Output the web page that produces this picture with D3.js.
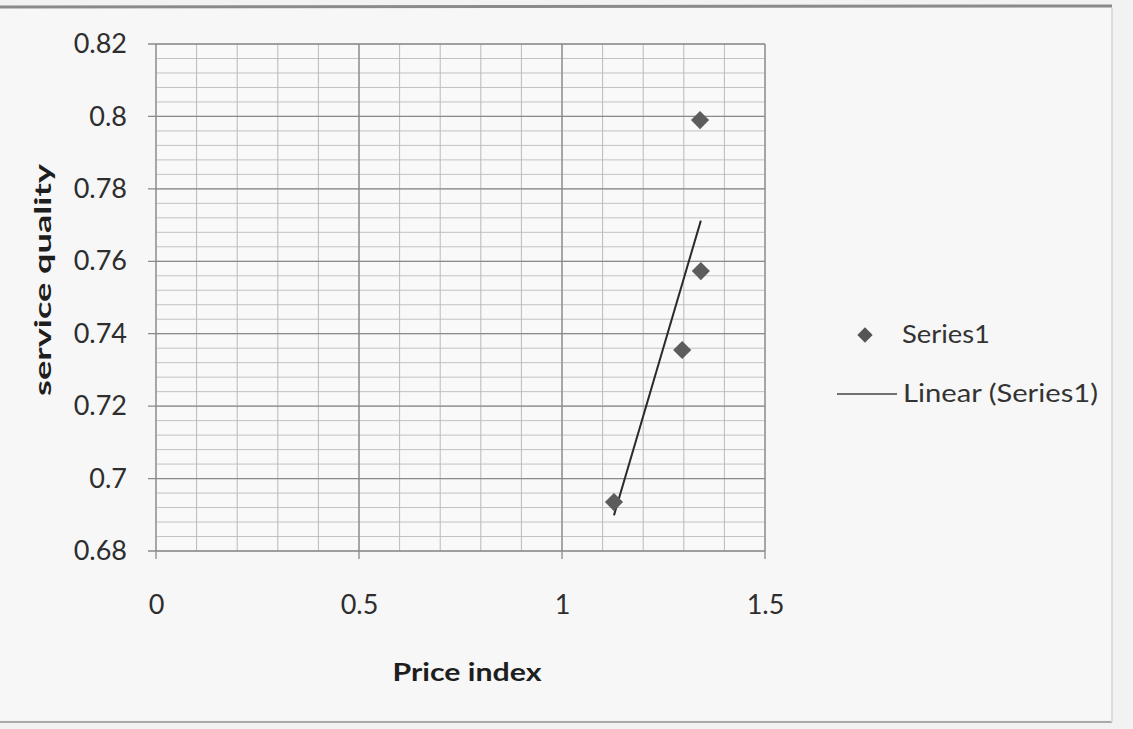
<!DOCTYPE html>
<html>
<head>
<meta charset="utf-8">
<script src="https://cdn.jsdelivr.net/npm/d3@7"></script>
<style>
  html, body { margin: 0; padding: 0; background: #f3f3f3; }
  svg { display: block; }
</style>
</head>
<body>
<svg id="chart" width="1133" height="729"></svg>
<script>
// ---- data ----
const priceIndex = [1.128, 1.296, 1.342, 1.340];
const serviceQuality = [0.6935, 0.7355, 0.7573, 0.799];
const xTicks = [0, 0.5, 1, 1.5];
const yTicks = [0.68, 0.70, 0.72, 0.74, 0.76, 0.78, 0.80, 0.82];
const xTickLabels = ["0", "0.5", "1", "1.5"];
const yTickLabels = ["0.68", "0.7", "0.72", "0.74", "0.76", "0.78", "0.8", "0.82"];
const seriesName = "Series1";
const trendName = "Linear (Series1)";
const xTitle = "Price index";
const yTitle = "service quality";

const svg = d3.select("#chart");
const W = 1133, H = 729;
const FONT = "Lato, 'Open Sans', sans-serif";
const m = { left: 156, right: 1133 - 765, top: 44, bottom: 729 - 551 };

// page background / scan frame
svg.append("rect").attr("x", 0).attr("y", 0).attr("width", W).attr("height", H).attr("fill", "#f2f2f2");
svg.append("rect").attr("x", 0).attr("y", 8).attr("width", 1112).attr("height", 712).attr("fill", "#f7f7f7");
svg.append("line").attr("x1", 0).attr("x2", 1112).attr("y1", 7).attr("y2", 6).attr("stroke", "#8a8a8a").attr("stroke-width", 3);
svg.append("line").attr("x1", 0).attr("x2", 1112).attr("y1", 722).attr("y2", 722).attr("stroke", "#aaaaaa").attr("stroke-width", 2);
svg.append("line").attr("x1", 1112).attr("x2", 1112).attr("y1", 8).attr("y2", 722).attr("stroke", "#dddddd").attr("stroke-width", 2);

const x = d3.scaleLinear().domain([0, 1.5]).range([m.left, W - m.right]);
const y = d3.scaleLinear().domain([0.68, 0.82]).range([H - m.bottom, m.top]);

// plot background
svg.append("rect").attr("x", x(0)).attr("y", y(0.82))
  .attr("width", x(1.5) - x(0)).attr("height", y(0.68) - y(0.82)).attr("fill", "#f9f9f9");

// minor gridlines
const xMinor = d3.range(0, 1.5001, 0.1);
const yMinor = d3.range(0.68, 0.82001, 0.004);
svg.append("g").selectAll("line").data(yMinor).join("line")
  .attr("x1", x(0)).attr("x2", x(1.5)).attr("y1", d => y(d)).attr("y2", d => y(d))
  .attr("stroke", "#c2c2c2").attr("stroke-width", 1);
svg.append("g").selectAll("line").data(xMinor).join("line")
  .attr("x1", d => x(d)).attr("x2", d => x(d)).attr("y1", y(0.82)).attr("y2", y(0.68))
  .attr("stroke", "#bababa").attr("stroke-width", 1);

// major gridlines
svg.append("g").selectAll("line").data(yTicks).join("line")
  .attr("x1", x(0) - 8).attr("x2", x(1.5)).attr("y1", d => y(d)).attr("y2", d => y(d))
  .attr("stroke", "#8a8a8a").attr("stroke-width", 1.3);
svg.append("g").selectAll("line").data(xTicks).join("line")
  .attr("x1", d => x(d)).attr("x2", d => x(d)).attr("y1", y(0.82)).attr("y2", y(0.68) + 8)
  .attr("stroke", "#8a8a8a").attr("stroke-width", 1.3);

// tick labels via axes
const yAxis = d3.axisLeft(y).tickValues(yTicks).tickFormat((d, i) => yTickLabels[i]).tickSize(0).tickPadding(29);
const gy = svg.append("g").attr("transform", `translate(${x(0)},0)`).call(yAxis);
gy.select(".domain").remove();
gy.selectAll("text").attr("font-family", FONT).attr("font-size", 27).attr("fill", "#2e2e2e");

const xAxis = d3.axisBottom(x).tickValues(xTicks).tickFormat((d, i) => xTickLabels[i]).tickSize(0).tickPadding(44);
const gx = svg.append("g").attr("transform", `translate(0,${y(0.68)})`).call(xAxis);
gx.select(".domain").remove();
gx.selectAll("text").attr("font-family", FONT).attr("font-size", 27).attr("fill", "#2e2e2e");

// axis titles
svg.append("text").attr("x", 467).attr("y", 681).attr("text-anchor", "middle")
  .attr("font-family", FONT).attr("font-weight", "bold").attr("font-size", 25)
  .attr("textLength", 149).attr("lengthAdjust", "spacingAndGlyphs")
  .attr("fill", "#1e1e1e").text(xTitle);
svg.append("text").attr("transform", "translate(51,280) rotate(-90)").attr("text-anchor", "middle")
  .attr("font-family", FONT).attr("font-weight", "bold").attr("font-size", 22)
  .attr("textLength", 232).attr("lengthAdjust", "spacingAndGlyphs")
  .attr("fill", "#1e1e1e").text(yTitle);

// trendline (least squares)
const n = priceIndex.length;
const mx = d3.mean(priceIndex), my = d3.mean(serviceQuality);
let sxy = 0, sxx = 0;
for (let i = 0; i < n; i++) { sxy += (priceIndex[i] - mx) * (serviceQuality[i] - my); sxx += (priceIndex[i] - mx) ** 2; }
const slope = sxy / sxx, icpt = my - slope * mx;
const xr = d3.extent(priceIndex);
svg.append("line")
  .attr("x1", x(xr[0])).attr("y1", y(icpt + slope * xr[0]))
  .attr("x2", x(xr[1])).attr("y2", y(icpt + slope * xr[1]))
  .attr("stroke", "#2a2a2a").attr("stroke-width", 2);

// points
const diamond = d3.symbol().type(d3.symbolDiamond2).size(210);
svg.append("g").selectAll("path").data(priceIndex).join("path")
  .attr("d", diamond)
  .attr("transform", (d, i) => `translate(${x(d)},${y(serviceQuality[i])})`)
  .attr("fill", "#5c5c5c");

// legend
const lg = svg.append("g");
lg.append("path").attr("d", d3.symbol().type(d3.symbolDiamond2).size(150)).attr("transform", "translate(865,335)").attr("fill", "#555");
lg.append("text").attr("x", 902).attr("y", 343).attr("font-family", FONT).attr("font-size", 25)
  .attr("textLength", 88).attr("lengthAdjust", "spacingAndGlyphs").attr("fill", "#333").text(seriesName);
lg.append("line").attr("x1", 837).attr("x2", 897).attr("y1", 394).attr("y2", 394).attr("stroke", "#444").attr("stroke-width", 1.5);
lg.append("text").attr("x", 903).attr("y", 402).attr("font-family", FONT).attr("font-size", 25)
  .attr("textLength", 195).attr("lengthAdjust", "spacingAndGlyphs").attr("fill", "#333").text(trendName);
</script>
</body>
</html>
